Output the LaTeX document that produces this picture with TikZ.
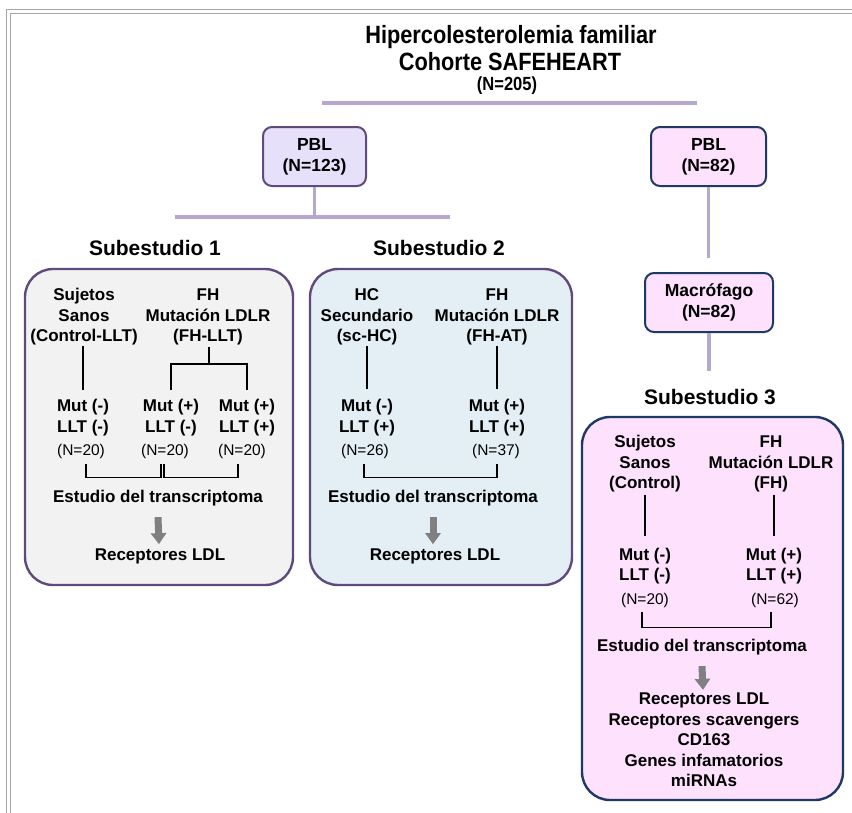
\documentclass[tikz,border=0pt]{standalone}
\usepackage{fontspec}
\setmainfont{Liberation Sans}
\newfontfamily\narrowfont{Liberation Sans}[FakeStretch=0.87]
\usetikzlibrary{arrows.meta,calc}
\definecolor{framegray}{HTML}{A6A6A6}
\definecolor{lavline}{HTML}{B4A7D0}
\definecolor{purpB}{HTML}{604A7B}
\definecolor{navyB}{HTML}{1F3864}
\definecolor{lavfill}{HTML}{E6E0FA}
\definecolor{pinkfill}{HTML}{FDE1FD}
\definecolor{grayfill}{HTML}{F2F2F2}
\definecolor{bluefill}{HTML}{E3EFF5}
\definecolor{arrowgray}{HTML}{808080}
\tikzset{
  txt/.style={font=\fontsize{17}{20.5}\selectfont\bfseries, align=center, inner sep=0pt},
  nsm/.style={font=\fontsize{15.5}{17}\selectfont, inner sep=0pt},
  sublabel/.style={font=\fontsize{21}{24}\selectfont\bfseries, inner sep=0pt},
  ttl/.style={font=\narrowfont\fontsize{25}{25}\selectfont\bfseries, inner sep=0pt},
  ttlsmall/.style={font=\narrowfont\fontsize{19}{19}\selectfont\bfseries, inner sep=0pt},
  pblbox/.style={rounded corners=9pt, line width=2pt, align=center, inner sep=0pt,
     font=\fontsize{17.5}{21}\selectfont\bfseries, minimum height=59pt},
  pblA/.style={pblbox, draw=purpB, fill=lavfill},
  pblB/.style={pblbox, draw=navyB, fill=pinkfill},
  bigbox/.style={rounded corners=28pt, line width=2.4pt},
  lavconn/.style={draw=lavline, line width=3.5pt},
  blk/.style={draw=black, line width=1.8pt},
  garrow/.style={draw=arrowgray, line width=7pt, -{Triangle[width=15pt,length=11pt]}},
}
\begin{document}
\begin{tikzpicture}[x=1pt,y=-1pt]
\useasboundingbox (0,0) rectangle (852,812);
\clip (0,0) rectangle (852,812);
\fill[white] (0,0) rectangle (852,812);
% outer double frame
\draw[framegray, line width=1.6pt] (6.5,840) |- (880,9.5);
\draw[framegray, line width=1.6pt] (10.5,840) |- (880,13.5);

% title
\node[ttl] (t1) at (511,37) {Hipercolesterolemia familiar};
\node[ttl] (t2) at (510,62) {Cohorte SAFEHEART};
\node[ttlsmall] (t3) at (507,86) {(N=205)};
\coordinate (tl) at (322,103);
\coordinate (tr) at (697,103);
\draw[lavconn] (tl) -- (tr);

% PBL boxes
\node[pblA, minimum width=103pt] (pbl1) at (314.5,156.5) {PBL\\(N=123)};
\node[pblB, minimum width=115pt] (pbl2) at (708.5,156.5) {PBL\\(N=82)};
\node[pblB, minimum width=128pt] (mac) at (709,302.5) {Macrófago\\(N=82)};

\coordinate (h1) at (314.5,217);
\coordinate (hl) at (175,217);
\coordinate (hr) at (450,217);
\draw[lavconn] (pbl1.south) -- (h1);
\draw[lavconn] (hl) -- (hr);
\draw[lavconn] (pbl2.south) -- ($(pbl2.south)+(0,71)$);
\draw[lavconn] (mac.south) -- ($(mac.south)+(0,38)$);

% sub-study labels
\node[sublabel] (sub1) at (155,248) {Subestudio 1};
\node[sublabel] (sub2) at (439,248) {Subestudio 2};
\node[sublabel] (sub3) at (710,397) {Subestudio 3};

% big boxes
\draw[bigbox, draw=purpB, fill=grayfill] (25,269) rectangle (293,585);
\draw[bigbox, draw=purpB, fill=bluefill] (310,269) rectangle (572,585);
\draw[bigbox, draw=navyB, fill=pinkfill] (582,417) rectangle (843,800);

% ---------- Subestudio 1
\node[txt] (s1a) at (84,317) {Sujetos\\Sanos\\(Control-LLT)};
\node[txt] (s1b) at (208,317) {FH\\Mutación LDLR\\(FH-LLT)};
\node[txt] (s1mA) at (83,417.5) {Mut (-)\\LLT (-)};
\node[txt] (s1mB) at (171,417.5) {Mut (+)\\LLT (-)};
\node[txt] (s1mC) at (247,417.5) {Mut (+)\\LLT (+)};
\node[nsm] (s1nA) at (81,451) {(N=20)};
\node[nsm] (s1nB) at (165,451) {(N=20)};
\node[nsm] (s1nC) at (242,451) {(N=20)};
\draw[blk] ($(s1mA.north)+(0,-53)$) -- ($(s1mA.north)+(0,-9)$);
\draw[blk] ($(s1b.south)+(1,2)$) -- ++(0,17) coordinate (s1j);
\draw[blk] ($(s1mB.north)+(0,-9)$) |- (s1j) -| ($(s1mC.north)+(0,-9)$);
\draw[blk] ($(s1nA.south)+(5,6)$) -- ++(0,13) -| ($(s1nB.south)+(-4,6)$);
\draw[blk] ($(s1nB.south)+(-1,6)$) -- ++(0,13) -| ($(s1nC.south)+(-4,6)$);
\node[txt] (s1e) at (158,498) {Estudio del transcriptoma};
\node[txt] (s1r) at (160,556) {Receptores LDL};
\draw[garrow] ($(s1e.south)+(0,11)$) -- ($(s1r.north)+(-1,-4)$);

% ---------- Subestudio 2
\node[txt] (s2a) at (367,317) {HC\\Secundario\\(sc-HC)};
\node[txt] (s2b) at (497,317) {FH\\Mutación LDLR\\(FH-AT)};
\node[txt] (s2mA) at (367,417.5) {Mut (-)\\LLT (+)};
\node[txt] (s2mB) at (497,417.5) {Mut (+)\\LLT (+)};
\node[nsm] (s2nA) at (365,451) {(N=26)};
\node[nsm] (s2nB) at (496,451) {(N=37)};
\draw[blk] ($(s2a.south)+(0,1)$) -- ($(s2mA.north)+(0,-10)$);
\draw[blk] ($(s2b.south)+(0,1)$) -- ($(s2mB.north)+(0,-10)$);
\draw[blk] ($(s2nA.south)+(-1,6)$) -- ++(0,13) -| ($(s2nB.south)+(1,6)$);
\node[txt] (s2e) at (433,498) {Estudio del transcriptoma};
\node[txt] (s2r) at (435,556) {Receptores LDL};
\draw[garrow] ($(s2e.south)+(0,11)$) -- ($(s2r.north)+(-2,-4)$);

% ---------- Subestudio 3
\node[txt] (s3a) at (645,464) {Sujetos\\Sanos\\(Control)};
\node[txt] (s3b) at (771,464) {FH\\Mutación LDLR\\(FH)};
\node[txt] (s3mA) at (645,566) {Mut (-)\\LLT (-)};
\node[txt] (s3mB) at (774,566) {Mut (+)\\LLT (+)};
\node[nsm] (s3nA) at (645,600) {(N=20)};
\node[nsm] (s3nB) at (775,600) {(N=62)};
\draw[blk] ($(s3mA.north)+(0,-53)$) -- ($(s3mA.north)+(0,-12)$);
\draw[blk] ($(s3mB.north)+(0,-53)$) -- ($(s3mB.north)+(0,-12)$);
\draw[blk] ($(s3nA.south)+(-3,5)$) -- ++(0,15) -| ($(s3nB.south)+(-4,5)$);
\node[txt] (s3e) at (702,647) {Estudio del transcriptoma};
\node[txt] (s3r) at (704,740) {Receptores LDL\\Receptores scavengers\\CD163\\Genes infamatorios\\miRNAs};
\draw[garrow] ($(s3e.south)+(0,11)$) -- ($(s3r.north)+(-1,-3)$);
\end{tikzpicture}
\end{document}
